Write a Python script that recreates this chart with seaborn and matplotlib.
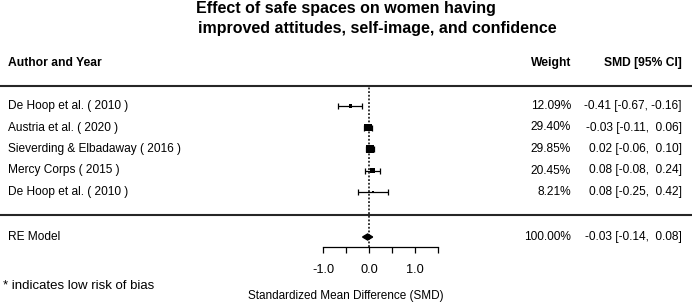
import matplotlib
matplotlib.use("Agg")
import matplotlib.pyplot as plt
import matplotlib.transforms as mtransforms
import numpy as np
import pandas as pd
import seaborn as sns

# ---------------- data ----------------
studies = ["De Hoop et al. ( 2010 )", "Austria et al. ( 2020 )",
           "Sieverding & Elbadaway ( 2016 )", "Mercy Corps ( 2015 )",
           "De Hoop et al. ( 2010 )"]
smd = [-0.41, -0.03, 0.02, 0.08, 0.08]
ci_low = [-0.67, -0.11, -0.06, -0.08, -0.25]
ci_high = [-0.16, 0.06, 0.10, 0.24, 0.42]
weights = [12.09, 29.40, 29.85, 20.45, 8.21]

re_label = "RE Model"
re_smd = -0.03
re_low = -0.14
re_high = 0.08
re_weight = 100.00

tick_values = [-1.0, -0.5, 0.0, 0.5, 1.0, 1.5]
tick_labels = ["-1.0", "", "0.0", "", "1.0", ""]

title_line1 = "Effect of safe spaces on women having"
title_line2 = "improved attitudes, self-image, and confidence"
xlabel = "Standardized Mean Difference (SMD)"
footnote = "* indicates low risk of bias"

# ---------------- style ----------------
sns.set_theme(style="white")
plt.rcParams["font.family"] = ["Liberation Sans", "DejaVu Sans"]

W, H = 692, 304
fig = plt.figure(figsize=(W / 100, H / 100), dpi=100)

top_px, bot_px = 86, 247
ax = fig.add_axes([0, (H - bot_px) / H, 1, (bot_px - top_px) / H])

rows = np.arange(len(studies), dtype=float)
row0_px, row_step = 106, 21.5
sep_y = (215 - row0_px) / row_step
re_y = (237 - row0_px) / row_step
ax.set_ylim((bot_px - row0_px) / row_step, (top_px - row0_px) / row_step)
zero_px, px_per_unit = 369, 46
ax.set_xlim(-zero_px / px_per_unit, (W - zero_px) / px_per_unit)

df = pd.DataFrame({"study": studies, "smd": smd, "lo": ci_low, "hi": ci_high,
                   "w": weights, "row": rows})
df["w2"] = df["w"] ** 2
max_side = 5.8
min_side = max_side * df["w"].min() / df["w"].max()

line_col = "#262626"

# zero reference line
ax.axvline(0, color="black", lw=1.1, ls=(0, (1.2, 1.2)), zorder=1)

# CIs
ax.errorbar(df["smd"], df["row"],
            xerr=[df["smd"] - df["lo"], df["hi"] - df["smd"]],
            fmt="none", ecolor="black", elinewidth=0.9, capsize=2.2,
            capthick=0.9, zorder=2)
# squares
sns.scatterplot(data=df, x="smd", y="row", size="w2",
                sizes=(min_side ** 2, max_side ** 2), marker="s",
                color="black", edgecolor="black", linewidth=0,
                legend=False, ax=ax, zorder=3)

# RE diamond
dh = 0.14
ax.fill([re_low, re_smd, re_high, re_smd], [re_y, re_y - dh, re_y, re_y + dh],
        color="black", zorder=3)

# separator line
ax.axhline(sep_y, color=line_col, lw=1.5, clip_on=False)

# spines / axis
for s in ["left", "right"]:
    ax.spines[s].set_visible(False)
ax.spines["top"].set_visible(True)
ax.spines["top"].set_color(line_col)
ax.spines["top"].set_linewidth(1.5)
ax.spines["bottom"].set_bounds(tick_values[0], tick_values[-1])
ax.spines["bottom"].set_color("black")
ax.spines["bottom"].set_linewidth(0.9)
ax.set_yticks([])
ax.set_xticks(tick_values)
ax.set_xticklabels(tick_labels)
ax.tick_params(axis="x", direction="out", length=4.5, width=0.9,
               color="black", pad=8, labelsize=9.2, labelcolor="black",
               bottom=True)
ax.set_xlabel("")
ax.set_ylabel("")
ax.grid(False)
ax.patch.set_alpha(0)

# text columns
tr = mtransforms.blended_transform_factory(fig.transFigure, ax.transData)
x_left = 8 / W
x_weight = 571 / W
x_smd = 682 / W
fs = 8.6

def fmt(v):
    return f"{v:.2f}"

def ci_text(e, lo, hi):
    lo_s = fmt(lo)
    hi_s = fmt(hi)
    if not lo_s.startswith("-"):
        lo_s = " " + lo_s
    if not hi_s.startswith("-"):
        hi_s = "  " + hi_s
    else:
        hi_s = " " + hi_s
    return f"{fmt(e)} [{lo_s},{hi_s}]"

for _, r in df.iterrows():
    ax.text(x_left, r["row"], r["study"], transform=tr, ha="left",
            va="center", fontsize=fs, color="black")
    ax.text(x_weight, r["row"], f"{r['w']:.2f}%", transform=tr, ha="right",
            va="center", fontsize=fs, color="black")
    ax.text(x_smd, r["row"], ci_text(r["smd"], r["lo"], r["hi"]),
            transform=tr, ha="right", va="center", fontsize=fs, color="black")

ax.text(x_left, re_y, re_label, transform=tr, ha="left", va="center",
        fontsize=fs, color="black")
ax.text(x_weight, re_y, f"{re_weight:.2f}%", transform=tr, ha="right",
        va="center", fontsize=fs, color="black")
ax.text(x_smd, re_y, ci_text(re_smd, re_low, re_high), transform=tr,
        ha="right", va="center", fontsize=fs, color="black")

# headers
hdr_y = 1 - 63 / H
fig.text(x_left, hdr_y, "Author and Year", ha="left", va="center",
         fontsize=8.7, fontweight="bold", color="black")
fig.text(x_weight, hdr_y, "Weight", ha="right", va="center",
         fontsize=8.7, fontweight="bold", color="black")
fig.text(x_smd, hdr_y, "SMD [95% CI]", ha="right", va="center",
         fontsize=8.7, fontweight="bold", color="black")

# title
fig.text(346 / W, 1 - 9 / H, title_line1, ha="center", va="center",
         fontsize=11.5, fontweight="bold", color="black")
fig.text(377 / W, 1 - 28 / H, title_line2, ha="center", va="center",
         fontsize=11.5, fontweight="bold", color="black")

# x label & footnote
fig.text(346 / W, 1 - 296 / H, xlabel, ha="center", va="center",
         fontsize=8.5, color="black")
fig.text(3 / W, 1 - 286 / H, footnote, ha="left", va="center",
         fontsize=9.5, color="black")

fig.savefig("out.png", dpi=100)
